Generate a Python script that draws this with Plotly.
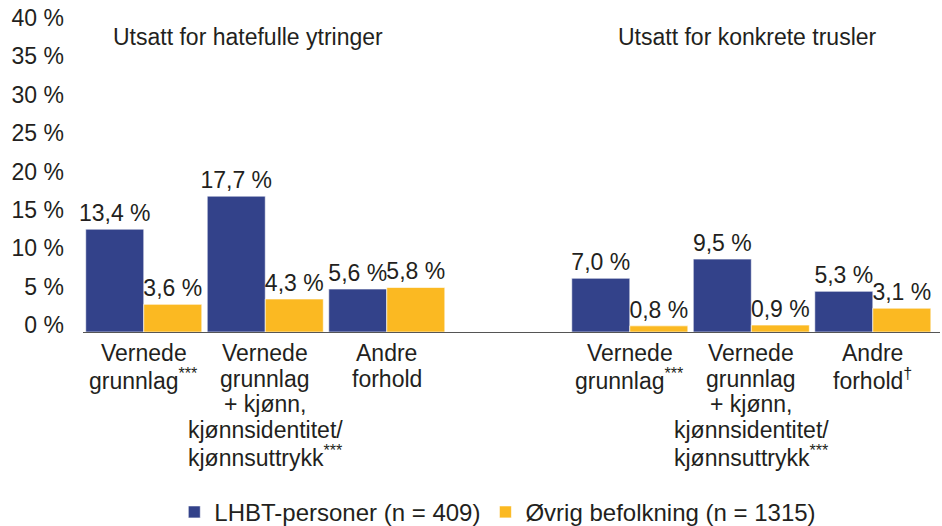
import plotly.graph_objects as go

# positions 0-2 = hatefulle ytringer, 4-6 = konkrete trusler (3 is an empty spacer)
positions = [0, 1, 2, 4, 5, 6]
categories = [
    "Vernede<br>grunnlag<sup>***</sup>",
    "Vernede<br>grunnlag<br>+ kjønn,<br>kjønnsidentitet/<br>kjønnsuttrykk<sup>***</sup>",
    "Andre<br>forhold",
    "Vernede<br>grunnlag<sup>***</sup>",
    "Vernede<br>grunnlag<br>+ kjønn,<br>kjønnsidentitet/<br>kjønnsuttrykk<sup>***</sup>",
    "Andre<br>forhold<sup>†</sup>",
]
lhbt = [13.4, 17.7, 5.6, 7.0, 9.5, 5.3]
ovrig = [3.6, 4.3, 5.8, 0.8, 0.9, 3.1]
series_names = ["LHBT-personer (n = 409)", "Øvrig befolkning (n = 1315)"]
group_titles = ["Utsatt for hatefulle ytringer", "Utsatt for konkrete trusler"]
y_ticks = [0, 5, 10, 15, 20, 25, 30, 35, 40]

FONT = "Liberation Sans, Arial, sans-serif"
TXT = "#231f20"
BLUE = "#33428a"
YELLOW = "#fbb922"

fig = go.Figure()
for name, vals, col in [(series_names[0], lhbt, BLUE), (series_names[1], ovrig, YELLOW)]:
    fig.add_trace(go.Bar(
        x=positions, y=vals, name=name,
        marker=dict(color=col, line=dict(color="rgba(255,255,255,0.6)", width=1)),
        texttemplate="%{y:.1f} %", textposition="outside",
        textfont=dict(size=23, color=TXT, family=FONT),
        constraintext="none", cliponaxis=False, textangle=0,
    ))

annotations = []
for pos, label in zip(positions, categories):
    for k, line in enumerate(label.split("<br>")):
        annotations.append(dict(
            x=pos, y=0, xref="x", yref="y", text=line, showarrow=False,
            yanchor="middle", yshift=-21 - k * 25.7,
            font=dict(size=23, color=TXT, family=FONT),
        ))
for xpos, shift, title in [(1, -17, group_titles[0]), (5, -4, group_titles[1])]:
    annotations.append(dict(
        x=xpos, y=0.961, xref="x", yref="paper", text=title, showarrow=False,
        xshift=shift, yanchor="middle",
        font=dict(size=23, color=TXT, family=FONT),
    ))

fig.update_layout(
    width=942, height=526,
    margin=dict(l=83, r=2, t=25, b=194, autoexpand=False),
    paper_bgcolor="white", plot_bgcolor="white",
    barmode="group", bargap=0.045, bargroupgap=0,
    separators=", ",
    font=dict(family=FONT, size=23, color=TXT),
    showlegend=True,
    legend=dict(
        orientation="h", x=0.484, xanchor="center",
        yref="container", y=0.026, yanchor="middle",
        font=dict(size=24, color=TXT, family=FONT), itemwidth=30,
        traceorder="normal",
    ),
    annotations=annotations,
    xaxis=dict(
        range=[-0.5, 6.553], showticklabels=False, showgrid=False, zeroline=False,
        showline=True, linecolor="#555555", linewidth=1, ticks="", automargin=False,
    ),
    yaxis=dict(
        range=[0, 40], tickvals=y_ticks, ticktext=[f"{v} %" for v in y_ticks],
        showgrid=False, zeroline=False, showline=False, ticks="",
        ticklabelshift=-7, ticklabelstandoff=18, automargin=False,
        tickfont=dict(size=23, color=TXT, family=FONT),
    ),
)

# drop the browser's default body margin so the 942x526 figure fills the window
fig.write_html("out.html", config={"displayModeBar": False},
               post_script="document.body.style.margin='0';")
